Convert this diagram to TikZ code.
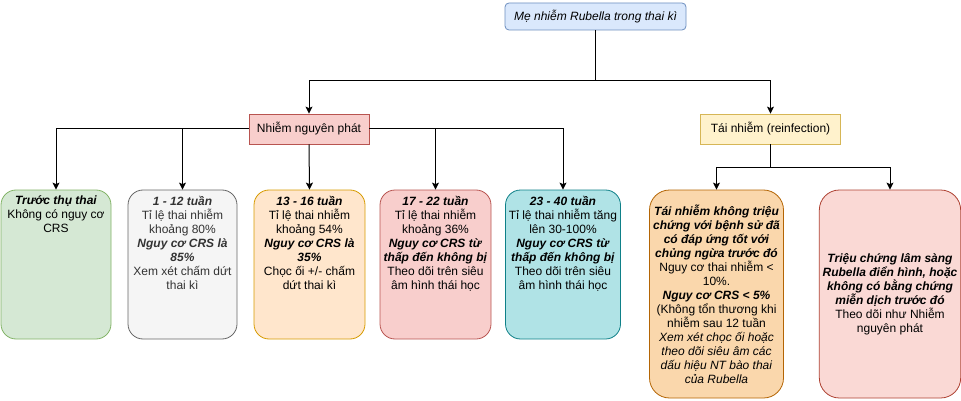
\documentclass[tikz,border=0pt]{standalone}
\usepackage{fontspec}
\setmainfont{Liberation Sans}
\usepackage{tikz}
\usetikzlibrary{arrows.meta}
\usepackage{xcolor}
\definecolor{topfill}{HTML}{DAE8FC}
\definecolor{topline}{HTML}{6C8EBF}
\definecolor{redfill}{HTML}{F8CECC}
\definecolor{redline}{HTML}{B85450}
\definecolor{yelfill}{HTML}{FFF2CC}
\definecolor{yelline}{HTML}{D6B656}
\definecolor{grnfill}{HTML}{D5E8D4}
\definecolor{grnline}{HTML}{82B366}
\definecolor{gryfill}{HTML}{F5F5F5}
\definecolor{gryline}{HTML}{666666}
\definecolor{grytext}{HTML}{333333}
\definecolor{orgfill}{HTML}{FFE6CC}
\definecolor{orgline}{HTML}{D79B00}
\definecolor{cyafill}{HTML}{B0E3E6}
\definecolor{cyaline}{HTML}{0E8088}
\definecolor{brnfill}{HTML}{FAD7AC}
\definecolor{brnline}{HTML}{B46504}
\definecolor{pnkfill}{HTML}{FAD9D5}
\definecolor{pnkline}{HTML}{AE4132}
\newcommand{\bfit}[1]{\textbf{\textit{#1}}}

\begin{document}
\begin{tikzpicture}[x=1pt, y=-1pt,
  every node/.style={font=\fontsize{12}{14}\selectfont, align=center},
  edge/.style={draw, line width=1pt, -{Stealth[length=7pt, width=7pt, inset=1.5pt]}},
  headbox/.style={draw, line width=0.8pt, minimum height=30pt, inner sep=0pt},
  stagebox/.style={draw, line width=0.8pt, rounded corners=15pt, minimum height=149pt},
  stagetext/.style={anchor=north, inner sep=0pt}]
  \useasboundingbox (0,0) rectangle (961,401);

  % top of the tree
  \node[draw=topline, fill=topfill, line width=0.8pt, rounded corners=4pt,
        minimum width=181pt, minimum height=27pt] (mother) at (595.5,16.5)
        {\textit{Mẹ nhiễm Rubella trong thai kì}};

  % two kinds of infection
  \node[headbox, draw=redline, fill=redfill, minimum width=120pt] (primary) at (309,129)
        {Nhiễm nguyên phát};
  \node[headbox, draw=yelline, fill=yelfill, minimum width=140pt] (reinf) at (770.5,129)
        {Tái nhiễm (reinfection)};

  % stages of primary infection
  \node[stagebox, draw=grnline, fill=grnfill, minimum width=110pt] (pre) at (56,264.5) {};
  \node[stagetext] (pret) at ([yshift=-6pt]pre.north)
        {\bfit{Trước thụ thai}\\Không có nguy cơ\\CRS};

  \node[stagebox, draw=gryline, fill=gryfill, minimum width=109pt] (w1) at (182.5,264.5) {};
  \node[stagetext, text=grytext] (w1t) at ([yshift=-6pt]w1.north)
        {\bfit{1 - 12 tuần}\\Tỉ lệ thai nhiễm\\khoảng 80\%\\\bfit{Nguy cơ CRS là}\\
         \bfit{85\%}\\Xem xét chấm dứt\\thai kì};

  \node[stagebox, draw=orgline, fill=orgfill, minimum width=111pt] (w13) at (309.5,264.5) {};
  \node[stagetext] (w13t) at ([yshift=-6pt]w13.north)
        {\bfit{13 - 16 tuần}\\Tỉ lệ thai nhiễm\\khoảng 54\%\\\bfit{Nguy cơ CRS là}\\
         \bfit{35\%}\\Chọc ối +/- chấm\\dứt thai kì};

  \node[stagebox, draw=redline, fill=redfill, minimum width=111pt] (w17) at (435.5,264.5) {};
  \node[stagetext] (w17t) at ([yshift=-6pt]w17.north)
        {\bfit{17 - 22 tuần}\\Tỉ lệ thai nhiễm\\khoảng 36\%\\\bfit{Nguy cơ CRS từ}\\
         \bfit{thấp đến không bị}\\Theo dõi trên siêu\\âm hình thái học};

  \node[stagebox, draw=cyaline, fill=cyafill, minimum width=115pt] (w23) at (563,264.5) {};
  \node[stagetext] (w23t) at ([yshift=-6pt]w23.north)
        {\bfit{23 - 40 tuần}\\Tỉ lệ thai nhiễm tăng\\lên 30-100\%\\\bfit{Nguy cơ CRS từ}\\
         \bfit{thấp đến không bị}\\Theo dõi trên siêu\\âm hình thái học};

  % cases of reinfection
  \node[draw=brnline, fill=brnfill, line width=0.8pt, rounded corners=20pt,
        minimum width=134pt, minimum height=208pt] (silent) at (716.5,294)
        {\bfit{Tái nhiễm không triệu}\\\bfit{chứng với bệnh sử đã}\\\bfit{có đáp ứng tốt với}\\
         \bfit{chủng ngừa trước đó}\\Nguy cơ thai nhiễm <\\10\%.\\\bfit{Nguy cơ CRS < 5\%}\\
         (Không tổn thương khi\\nhiễm sau 12 tuần\\\textit{Xem xét chọc ối hoặc}\\
         \textit{theo dõi siêu âm các}\\\textit{dấu hiệu NT bào thai}\\\textit{của Rubella}};
  \node[draw=pnkline, fill=pnkfill, line width=0.8pt, rounded corners=20pt,
        minimum width=140pt, minimum height=208pt] (typical) at (890,294)
        {\bfit{Triệu chứng lâm sàng}\\\bfit{Rubella điển hình, hoặc}\\\bfit{không có bằng chứng}\\
         \bfit{miễn dịch trước đó}\\Theo dõi như Nhiễm\\nguyên phát};

  % connectors
  \draw[edge] (mother.south) -- ++(0,50) -| (primary.north);
  \draw[edge] (mother.south) -- ++(0,50) -| (reinf.north);
  \draw[edge] (primary.west) -| (pre.north);
  \draw[edge] (primary.west) -| (w1.north);
  \draw[edge] (primary.south) -- (w13.north);
  \draw[edge] (primary.east) -| (w17.north);
  \draw[edge] (primary.east) -| (w23.north);
  \draw[edge] (reinf.south) -- ++(0,23) -| (silent.north);
  \draw[edge] (reinf.south) -- ++(0,23) -| (typical.north);
\end{tikzpicture}
\end{document}
